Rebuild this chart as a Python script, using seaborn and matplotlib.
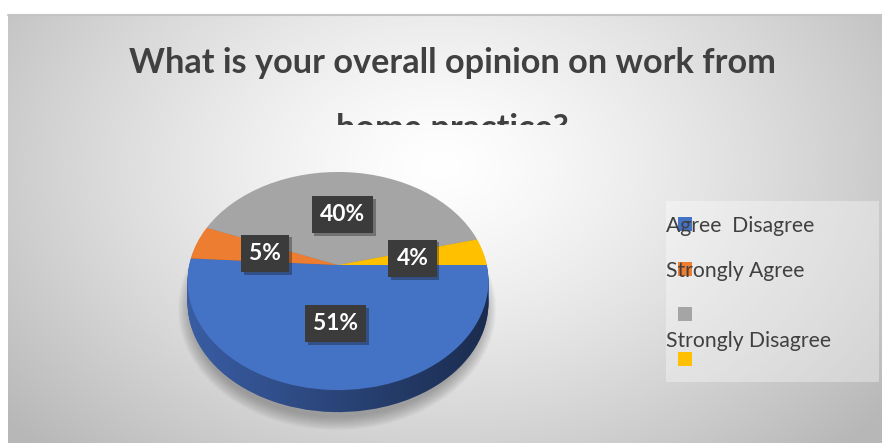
import numpy as np
import matplotlib
matplotlib.use("Agg")
import matplotlib.pyplot as plt
import matplotlib.transforms as mtransforms
import matplotlib.patheffects as pe
from matplotlib.patches import Rectangle, Ellipse
import seaborn as sns

# ---------------- data ----------------
categories = ["Agree", "Disagree", "Strongly Agree", "Strongly Disagree"]
values = [51, 5, 40, 4]
title_lines = ["What is your overall opinion on work from", "home practice?"]

top_colors = ["#4472c4", "#ed7d31", "#a5a5a5", "#ffc000"]
side_colors = ["#3a5ea6", "#b65f22", "#7f7f7f", "#c99800"]

# ---------------- style ----------------
sns.set_theme(style="white")
plt.rcParams["font.family"] = ["Lato", "DejaVu Sans"]

W, H, DPI = 882, 443, 100
fig = plt.figure(figsize=(W / DPI, H / DPI), dpi=DPI)
fig.patch.set_facecolor("white")
renderer = fig.canvas.get_renderer()


def fit(t, target_px):
    w = t.get_window_extent(renderer).width
    t.set_fontsize(t.get_fontsize() * target_px / w)


# ---------------- background (pixel coords, y down) ----------------
bg = fig.add_axes([0, 0, 1, 1], zorder=0)
bg.set_axis_off()
yy, xx = np.mgrid[14:443, 8:882]
r = np.sqrt(((xx - 440) / 470.0) ** 2 + ((yy - 165) / 330.0) ** 2)
v = 1 - 0.22 * np.clip(r, 0, 1.2) ** 1.3
bg.imshow(np.dstack([v, v, v]), extent=(8, 882, 443, 14), aspect="auto",
          interpolation="bilinear", zorder=0)
bg.plot([8, 882], [14.5, 14.5], color="#c4c4c4", lw=1.5, zorder=1)
bg.set_xlim(0, W)
bg.set_ylim(H, 0)

# legend box (garbled layout as in the original)
bg.add_patch(Rectangle((666, 201), 213, 181, fc="white", ec="none", alpha=0.35, zorder=2))
marker_pos = [(678, 217), (678, 262), (678, 307), (678, 352)]
for (mx, my), c in zip(marker_pos, top_colors):
    bg.add_patch(Rectangle((mx, my), 14, 14, fc=c, ec="none", zorder=3))
leg_lines = [f"{categories[0]}  {categories[1]}", categories[2], categories[3]]
leg_base = [232, 277, 347]
leg_texts = []
for s, yb in zip(leg_lines, leg_base):
    leg_texts.append(bg.text(666, yb, s, fontsize=15, color="#404040",
                             va="baseline", ha="left", zorder=4))
fit(leg_texts[0], 148)
for t in leg_texts[1:]:
    t.set_fontsize(leg_texts[0].get_fontsize())

# ---------------- title ----------------
t1 = fig.text(452 / W, 1 - 73 / H, title_lines[0], ha="center", va="baseline",
              fontsize=21, fontweight="bold", color="#404040")
fit(t1, 645)
t2 = fig.text(452 / W, 1 - 139 / H, title_lines[1], ha="center", va="baseline",
              fontsize=t1.get_fontsize(), fontweight="bold", color="#404040")
t2.set_clip_box(mtransforms.Bbox.from_extents(0, H - 125, W, H))
t2.set_clip_on(True)

# ---------------- 3D-looking pie ----------------
E, SX, SY = 0.147, 148.8, 106.7


class Persp(mtransforms.Transform):
    input_dims = 2
    output_dims = 2
    is_separable = False
    has_inverse = False

    def transform_non_affine(self, values):
        v = np.asarray(values, dtype=float)
        x, y = v[..., 0], v[..., 1]
        d = 1 + E * y
        return np.stack([SX * x / d, SY * y / d], axis=-1)


# axes in pixel units, origin at pie apex (338, 265)
x0, x1, y0, y1 = 150, 530, 140, 435
ax = fig.add_axes([x0 / W, 1 - y1 / H, (x1 - x0) / W, (y1 - y0) / H], zorder=1)
ax.patch.set_alpha(0)

# soft shadow
for i in range(14):
    ax.add_patch(Ellipse((-1, -44), 2 * (146 + 1.0 * i), 2 * (108 + 1.0 * i),
                         fc="#505050", ec="none", alpha=0.035, zorder=0))

depth = 22
bottom_blue = None
for k in range(depth, 0, -1):
    wedges, _ = ax.pie(values, colors=side_colors, startangle=0, counterclock=False,
                       wedgeprops=dict(linewidth=0))
    tr = Persp() + mtransforms.Affine2D().translate(0, -k) + ax.transData
    for w in wedges:
        w.set_transform(tr)
        w.set_zorder(1)
    if bottom_blue is None:
        bottom_blue = wedges[0]

# horizontal shading on the side
grad = np.zeros((2, 256, 4))
grad[..., 3] = np.linspace(0.0, 0.55, 256)[None, :]
im = ax.imshow(grad, extent=(-160, 160, -160, -10), aspect="auto", zorder=1.5)
im.set_clip_path(bottom_blue)

wedges, _, autotexts = ax.pie(values, colors=top_colors, startangle=0, counterclock=False,
                              autopct="%1.0f%%", pctdistance=0.51,
                              wedgeprops=dict(linewidth=0))
tr = Persp() + ax.transData
for w in wedges:
    w.set_transform(tr)
    w.set_zorder(2)
for t in autotexts:
    t.set_transform(tr)
    t.set_color("white")
    t.set_fontweight("bold")
    t.set_fontsize(15)
    t.set_zorder(5)
    t.set_bbox(dict(boxstyle="square,pad=0.36", fc="#3b3b3b", ec="none"))
    t.get_bbox_patch().set_path_effects([pe.SimplePatchShadow(offset=(2, -2), alpha=0.35),
                                         pe.Normal()])
fit(autotexts[0], 45)
for t in autotexts[1:]:
    t.set_fontsize(autotexts[0].get_fontsize())

ax.set_aspect("auto")
ax.set_xlim(x0 - 338, x1 - 338)
ax.set_ylim(265 - y1, 265 - y0)
ax.set_axis_off()

fig.savefig("out.png", dpi=DPI)
